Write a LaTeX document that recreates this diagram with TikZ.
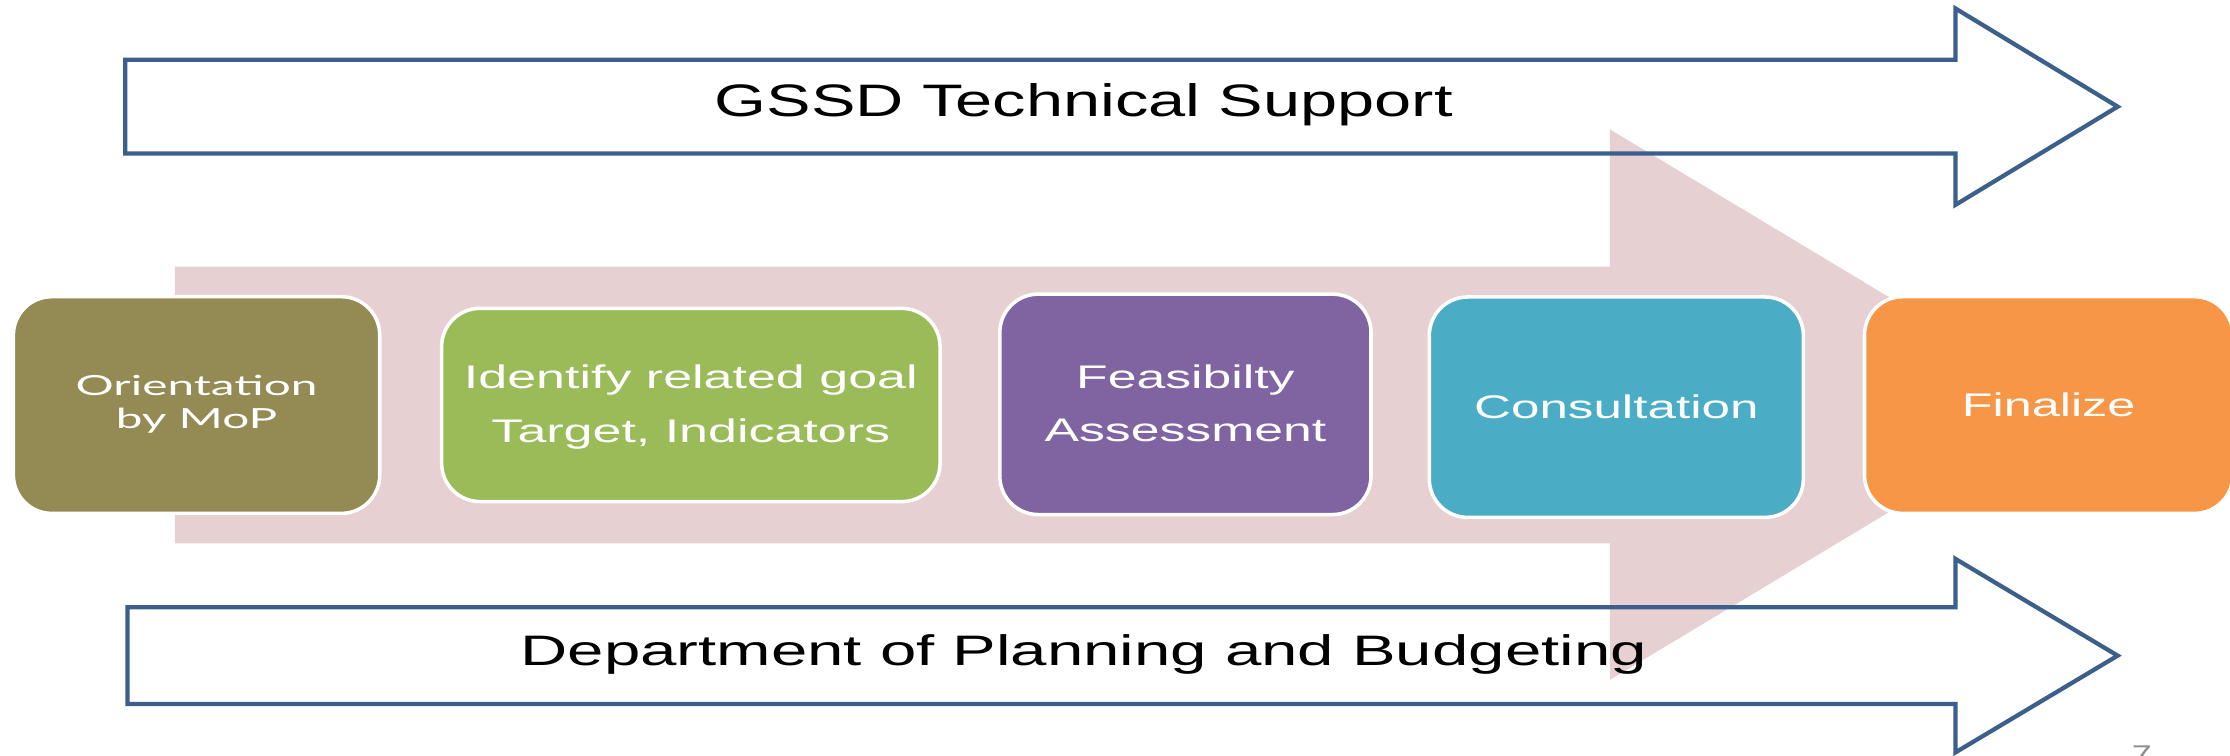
\documentclass[tikz,border=0pt]{standalone}
\usepackage{fontspec}
\usepackage{graphicx}
\setmainfont{Liberation Sans}
\newfontfamily\latofont{Lato}
\definecolor{bandpink}{RGB}{231,208,209}
\definecolor{arrowblue}{RGB}{60,95,140}
\definecolor{olivebox}{RGB}{148,138,84}
\definecolor{greenbox}{RGB}{155,187,89}
\definecolor{purplebox}{RGB}{128,100,162}
\definecolor{bluebox}{RGB}{75,172,198}
\definecolor{orangebox}{RGB}{247,150,70}
\definecolor{pagegray}{RGB}{140,140,140}
\newcommand\fitw[2]{\resizebox{#1}{\height}{#2}}
\newcommand\fitlines[2]{\resizebox{#1}{\height}{\begin{tabular}{@{}c@{}}#2\end{tabular}}}
\tikzset{
  stepbox/.style={draw=white, line width=2.5pt, rounded corners=27pt, inner sep=0pt, text=white},
  bandarrow/.style={draw=arrowblue, line width=3pt, line join=miter},
  bandtext/.style={inner sep=0pt, text=black},
  boxtext/.style={font=\fontsize{23}{37.5}\selectfont}
}
\begin{document}
\begin{tikzpicture}[x=1pt,y=-1pt]
\useasboundingbox (0,0) rectangle (1568,531);
% big pink process arrow
\fill[bandpink] (123,187.5) -- (1132,187.5) -- (1132,91) -- (1454,284.5)
  -- (1132,478) -- (1132,382) -- (123,382) -- cycle;
% top outline arrow
\draw[bandarrow] (88,42) -- (1375,42) -- (1375,6) -- (1489,75) -- (1375,144)
  -- (1375,108) -- (88,108) -- cycle;
\node[bandtext, font=\fontsize{32}{38}\selectfont] (gssd) at (762,73.5)
  {\fitw{519pt}{GSSD Technical Support}};
% bottom outline arrow
\draw[bandarrow] (89.7,427) -- (1375,427) -- (1375,393) -- (1489,461) -- (1375,529)
  -- (1375,495) -- (89.7,495) -- cycle;
\node[bandtext, font=\fontsize{30}{36}\selectfont] (dpb) at (762,460.5)
  {\fitw{792pt}{Department of Planning and Budgeting}};
% process steps
\node[stepbox, fill=olivebox, minimum width=257.6pt, minimum height=152.4pt,
  font=\latofont\fontsize{19.5}{23.5}\selectfont] (orient) at (138.2,284.8)
  {\fitlines{170pt}{Orientation\\by MoP}};
\node[stepbox, boxtext, fill=greenbox, minimum width=350.5pt, minimum height=135.9pt] (ident) at (485.75,284.75)
  {\fitlines{319pt}{Identify related goal\\Target, Indicators}};
\node[stepbox, boxtext, fill=purplebox, minimum width=261pt, minimum height=155pt] (feas) at (833.5,284.3)
  {\fitlines{198pt}{Feasibilty\\Assessment}};
\node[stepbox, boxtext, fill=bluebox, minimum width=263pt, minimum height=155pt] (consult) at (1136.5,286.3)
  {\fitw{200pt}{Consultation}};
\node[stepbox, boxtext, fill=orangebox, minimum width=259pt, minimum height=152.4pt] (final) at (1440.5,284.8)
  {\fitw{122pt}{Finalize}};
% page number (cut by the page edge)
\node[anchor=base, inner sep=0pt, text=pagegray, font=\fontsize{18}{20}\selectfont] (pgnum) at (1506,537)
  {\fitw{14pt}{7}};
\end{tikzpicture}
\end{document}
